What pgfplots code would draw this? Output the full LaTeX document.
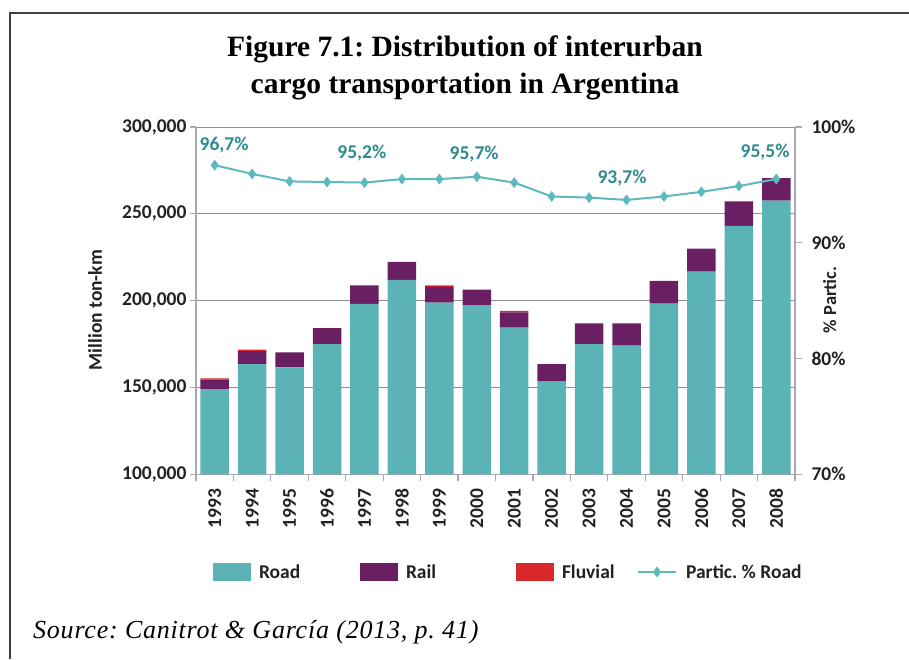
\documentclass[border=0pt]{standalone}
\usepackage{pgfplots}
\pgfplotsset{compat=1.18}
\usepackage{fontspec}
\setmainfont{Liberation Serif}
\newfontfamily\carl{Carlito}
\newfontfamily\srcfont[LetterSpace=3]{Liberation Serif}
\frenchspacing
\definecolor{road}{HTML}{5BB3B5}
\definecolor{rail}{HTML}{6A1F63}
\definecolor{fluvial}{HTML}{D9282A}
\definecolor{lineteal}{HTML}{5DB9BC}
\definecolor{labelteal}{HTML}{2E8B8E}
\definecolor{axisgray}{HTML}{A8A8B0}
\definecolor{gridgray}{HTML}{8E8E8E}
\definecolor{txt}{HTML}{222222}
\newcommand{\tf}{\carl\bfseries\fontsize{19.5}{22}\selectfont}
\pgfplotsset{
  swatch/.style={legend image code/.code={\fill[##1] (0pt,-9pt) rectangle (38pt,9pt); \path (46pt,0pt);}},
  lineleg/.style={legend image code/.code={\draw[mark repeat=2,mark phase=2,##1] plot coordinates {(0pt,0pt)(19pt,0pt)(38pt,0pt)}; \path (47pt,0pt);}},
}
\begin{document}
\begin{tikzpicture}[x=1pt,y=1pt]
\useasboundingbox (0,0) rectangle (909,659);
\draw[line width=1.5pt, color=black!75] (10,0) -- (10,646) -- (909,646);
\node[anchor=base, inner sep=0pt, font=\bfseries\fontsize{29.5}{34}\selectfont] at (465,602) {Figure 7.1: Distribution of interurban};
\node[anchor=base, inner sep=0pt, font=\bfseries\fontsize{29.5}{34}\selectfont] at (465,565) {cargo transportation in Argentina};
\node[anchor=base west, inner sep=0pt, font=\srcfont\itshape\fontsize{26}{30}\selectfont] at (33,21) {Source: Canitrot \& García (2013, p.~41)};

\begin{axis}[
  at={(196pt,184.7pt)}, anchor=south west, scale only axis,
  width=599pt, height=347.3pt,
  ybar stacked, bar width=28.5pt,
  xmin=-0.5, xmax=15.5, ymin=100000, ymax=300000,
  axis x line*=bottom, axis y line*=left,
  xtick={0,...,15},
  xticklabels={1993,1994,1995,1996,1997,1998,1999,2000,2001,2002,2003,2004,2005,2006,2007,2008},
  x tick label style={rotate=90, anchor=east},
  xticklabel shift=5pt,
  major x tick style={draw=none},
  minor xtick={-0.5,0.5,...,15.5},
  tick align=outside, major tick length=6pt, minor tick length=7pt,
  ytick={100000,150000,200000,250000,300000},
  scaled y ticks=false,
  yticklabel style={/pgf/number format/fixed, /pgf/number format/1000 sep={,}},
  /pgf/number format/assume math mode=true,
  ymajorgrids, grid style={color=gridgray, line width=0.9pt},
  axis line style={color=axisgray, line width=1.2pt},
  tick style={color=axisgray, line width=1.2pt},
  ticklabel style={font=\tf, text=txt},
  ylabel={Million ton-km},
  ylabel style={at={(axis description cs:-0.1686,0.473)}, anchor=center, font=\carl\bfseries\fontsize{19.5}{22}\selectfont, text=txt},
]
\addplot[fill=road, draw=none] coordinates {
(0,149100) (1,163500) (2,161600) (3,175000) (4,198200) (5,211900) (6,198900) (7,197400)
(8,184400) (9,153600) (10,175000) (11,174100) (12,198300) (13,216700) (14,243100) (15,257600)};
\addplot[fill=rail, draw=none] coordinates {
(0,5400) (1,7500) (2,8600) (3,9200) (4,10600) (5,10500) (6,9000) (7,9000)
(8,8900) (9,9900) (10,11900) (11,12800) (12,13100) (13,13200) (14,14000) (15,12900)};
\addplot[fill=fluvial, draw=none] coordinates {
(0,800) (1,800) (2,0) (3,0) (4,0) (5,0) (6,900) (7,0)
(8,800) (9,0) (10,0) (11,0) (12,0) (13,0) (14,0) (15,0)};
\end{axis}

\begin{axis}[
  at={(196pt,184.7pt)}, anchor=south west, scale only axis,
  width=599pt, height=347.3pt,
  xmin=-0.5, xmax=15.5, ymin=70, ymax=100,
  axis y line*=right, axis x line=none,
  ytick={70,80,90,100},
  yticklabel={\pgfmathprintnumber{\tick}\%},
  yticklabel style={xshift=6pt},
  /pgf/number format/assume math mode=true,
  tick align=outside, major tick length=7pt,
  axis line style={color=axisgray, line width=1.2pt},
  tick style={color=axisgray, line width=1.2pt},
  ticklabel style={font=\tf, text=txt},
  ylabel={\% Partic.},
  ylabel style={at={(axis description cs:1.058,0.502)}, anchor=center, font=\carl\bfseries\fontsize{18.5}{21}\selectfont, text=txt},
  legend columns=4,
  legend cell align=left,
  legend style={at={(axis description cs:0.0284,-0.2813)}, anchor=west, draw=none, fill=none,
    inner sep=0pt, outer sep=0pt, /tikz/column sep=0pt, font=\tf, text=txt,
    nodes={inner sep=0pt}},
]
\addlegendimage{swatch, fill=road, draw=none}
\addlegendentry{\makebox[101pt][l]{Road}}
\addlegendimage{swatch, fill=rail, draw=none}
\addlegendentry{\makebox[110pt][l]{Rail}}
\addlegendimage{swatch, fill=fluvial, draw=none}
\addlegendentry{\makebox[75pt][l]{Fluvial}}
\addplot[lineleg, color=lineteal, line width=2pt, mark=diamond*, mark size=5pt, mark options={fill=lineteal, line width=0.5pt}] coordinates {
(0,96.7) (1,95.95) (2,95.3) (3,95.25) (4,95.2) (5,95.5) (6,95.5) (7,95.7)
(8,95.2) (9,94.0) (10,93.9) (11,93.7) (12,94.0) (13,94.4) (14,94.9) (15,95.5)};
\addlegendentry{Partic. \% Road}
\addplot[forget plot, draw=none, mark=none, nodes near coords, point meta=explicit symbolic,
  every node near coord/.append style={anchor=center, text=labelteal, font=\tf}] coordinates {
(0.25,98.42) [96,7\%]
(3.93,97.73) [95,2\%]
(6.93,97.64) [95,7\%]
(10.88,95.57) [93,7\%]
(14.70,97.82) [95,5\%]};
\end{axis}
\end{tikzpicture}
\end{document}
